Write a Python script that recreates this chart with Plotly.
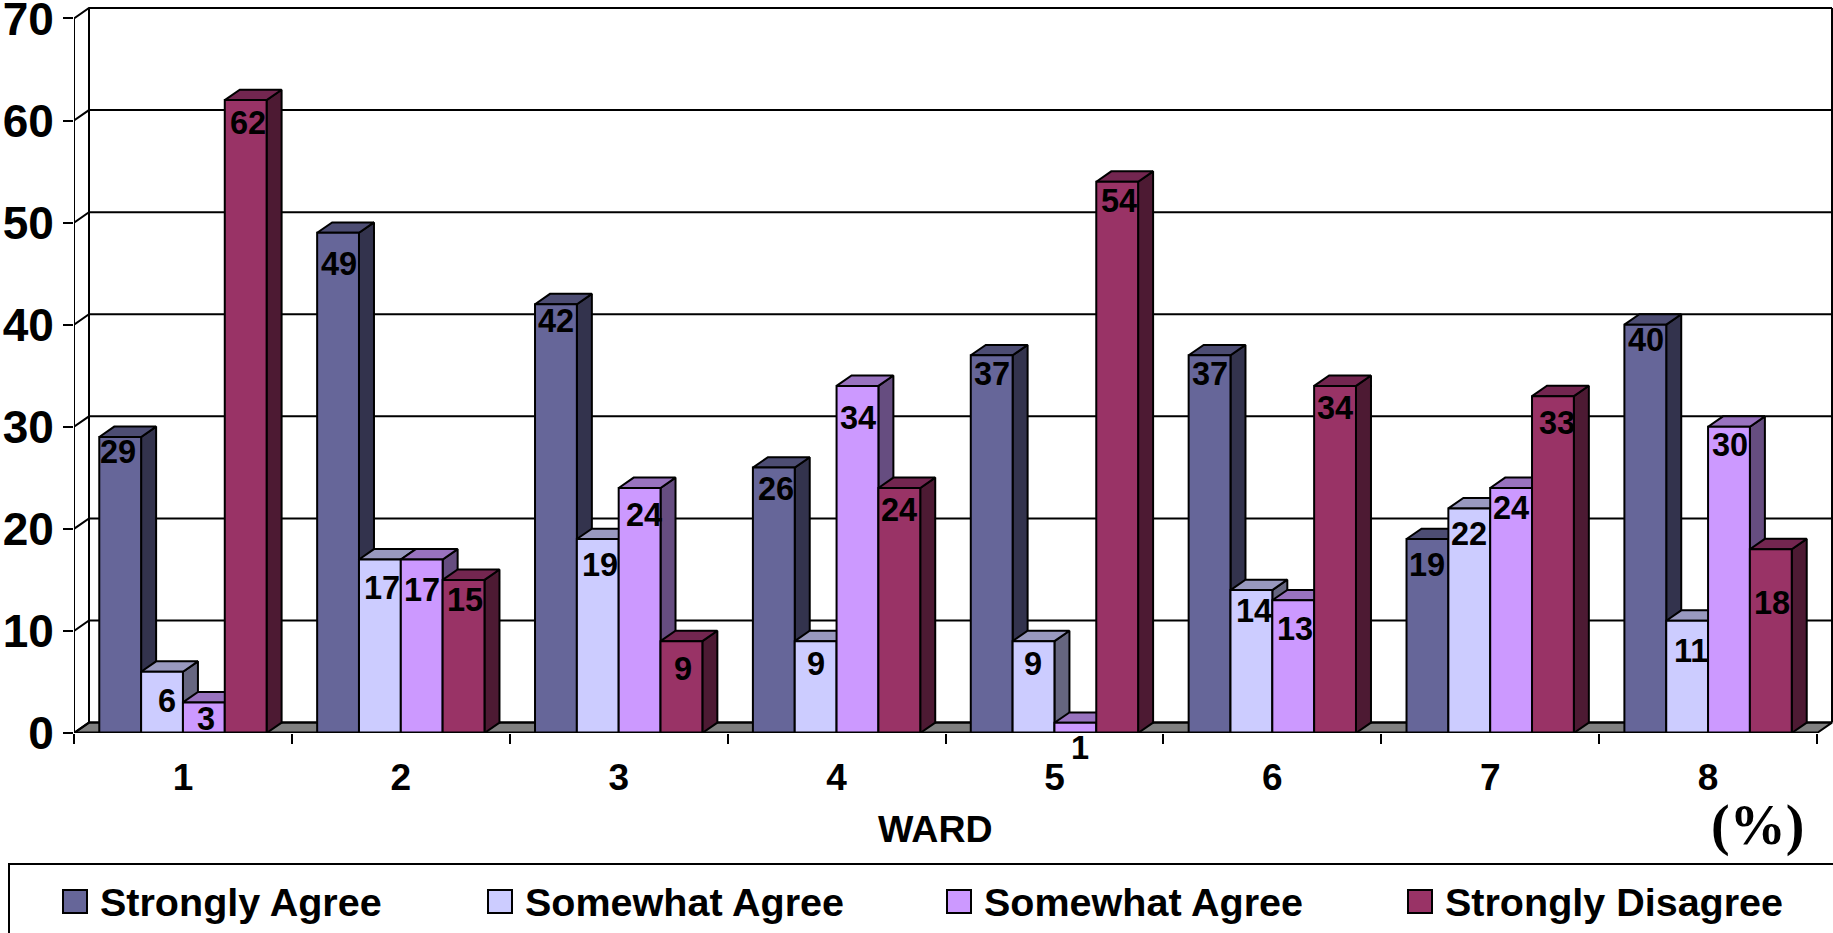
import plotly.graph_objects as go

WARDS = [1, 2, 3, 4, 5, 6, 7, 8]
SERIES = ["Strongly Agree", "Somewhat Agree", "Somewhat Agree", "Strongly Disagree"]
STRONGLY_AGREE = [29, 49, 42, 26, 37, 37, 19, 40]
SOMEWHAT_AGREE = [6, 17, 19, 9, 9, 14, 22, 11]
SOMEWHAT_AGREE_2 = [3, 17, 24, 34, 1, 13, 24, 30]
STRONGLY_DISAGREE = [62, 15, 9, 24, 54, 34, 33, 18]
Y_TICKS = [0, 10, 20, 30, 40, 50, 60, 70]
VALUES = [STRONGLY_AGREE, SOMEWHAT_AGREE, SOMEWHAT_AGREE_2, STRONGLY_DISAGREE]

FRONT = ["#666699", "#CCCCFF", "#CC99FF", "#993366"]
TOP = ["#4D4D73", "#9999BF", "#9973BF", "#732650"]
SIDE = ["#33334D", "#666680", "#664D80", "#4D1A33"]

W, H = 1833, 933
ZERO_PX, SEVENTY_PX = 733, 18       # pixel rows of value 0 and value 70
LEFT_PX, RIGHT_PX = 74, 1817        # pixel columns of the front axis ends
X0, X1 = 0.5, 8.5
Y0, Y1 = 0, 70
PX_X = (RIGHT_PX - LEFT_PX) / (X1 - X0)
PX_Y = (ZERO_PX - SEVENTY_PX) / (Y1 - Y0)
BAR_W = 0.192
DX = 15 / PX_X
DY = 10.4 / PX_Y
LW = 2

# the plot area holds the wall depth too, so nothing is clipped
XR = X0 + (W - LEFT_PX) / PX_X
YR = Y1 + DY + 0.2
ML = LEFT_PX
MR = 0
MB = H - ZERO_PX
MT = H - MB - (YR - Y0) * PX_Y
PW, PH = W - ML - MR, H - MT - MB


def px(x):
    return (x - ML) / PW


def py(y):
    return (H - MB - y) / PH


# label nudges (pixels) per ward / series: sideways shift and drop below bar top
LABEL_SHIFT_X = [[-2, 5, 2, 2], [1, 2, 0, 1], [0, 2, 4, 2], [2, 0, 1, 0],
                 [0, -1, 5, 2], [0, 3, 2, 0], [0, 0, 0, 4], [1, 4, 1, 1]]
LABEL_DROP = [[15, 29, 17, 23], [31, 29, 31, 20], [17, 26, 27, 28], [21, 23, 32, 22],
              [19, 23, 25, 19], [19, 21, 29, 22], [26, 26, 20, 27], [15, 30, 18, 54]]

fig = go.Figure()


def poly(xs, ys, fill=None, width=LW):
    fig.add_trace(go.Scatter(
        x=xs, y=ys, mode="lines", line=dict(color="black", width=width),
        fill="toself" if fill else "none", fillcolor=fill, showlegend=False,
        hoverinfo="skip", xaxis="x", yaxis="y"))


# floor
poly([X0, X0 + DX, X1 + DX, X1, X0], [0, DY, DY, 0, 0], fill="#808080")

# walls and gridlines on the back wall
gx, gy = [], []
for v in Y_TICKS:
    gx += [X0, X0 + DX, X1 + DX, None]
    gy += [v, v + DY, v + DY, None]
gx += [X0 + DX, X0 + DX, None, X1 + DX, X1 + DX, None, X0, X0]
gy += [DY, Y1 + DY, None, DY, Y1 + DY, None, 0, Y1]
poly(gx, gy)

# side and top faces, from the values
for k, ward in enumerate(WARDS):
    for i in range(4):
        v = VALUES[i][k]
        left = ward + (i - 2) * BAR_W
        right = left + BAR_W
        poly([right, right + DX, right + DX, right, right],
             [0, DY, v + DY, v, 0], fill=SIDE[i])
        poly([left, left + DX, right + DX, right, left],
             [v, v + DY, v + DY, v, v], fill=TOP[i])

# front faces on an overlay axis pair, so they sit above every side face
for i, name in enumerate(SERIES):
    fig.add_trace(go.Bar(
        x=WARDS, y=VALUES[i], name=name, width=BAR_W, offset=(i - 2) * BAR_W,
        marker=dict(color=FRONT[i], line=dict(color="black", width=LW)),
        showlegend=False, xaxis="x2", yaxis="y2"))

# front edge of the floor, above the bars
fig.add_trace(go.Scatter(x=[X0, X1], y=[0, 0], mode="lines",
                         line=dict(color="black", width=LW + 1), showlegend=False,
                         hoverinfo="skip", xaxis="x2", yaxis="y2", cliponaxis=False))

annotations = []
SANS = "Liberation Sans"
for k, ward in enumerate(WARDS):
    for i in range(4):
        annotations.append(dict(
            x=ward + (i - 1.5) * BAR_W, y=VALUES[i][k], xref="x2", yref="y2",
            text=str(VALUES[i][k]), showarrow=False, xanchor="center", yanchor="middle",
            xshift=LABEL_SHIFT_X[k][i], yshift=-LABEL_DROP[k][i],
            font=dict(family=SANS, size=32.5, color="black", weight=700)))


def paper(text, x, y, size, anchor="left", family=SANS):
    annotations.append(dict(
        x=px(x), y=py(y), xref="paper", yref="paper", text=text, showarrow=False,
        xanchor=anchor, yanchor="middle",
        font=dict(family=family, size=size, color="black", weight=700)))


paper("WARD", 935, 829, 37.5, "center")
paper("(%)", 1757, 826, 56, "center", "Liberation Serif")

shapes = [dict(type="rect", xref="paper", yref="paper", x0=px(9), x1=px(W + 10),
               y0=py(H + 10), y1=py(864), line=dict(color="black", width=LW))]
SWATCH_X = [63, 488, 947, 1408]
for i, name in enumerate(SERIES):
    sx = SWATCH_X[i]
    shapes.append(dict(type="rect", xref="paper", yref="paper",
                       x0=px(sx), x1=px(sx + 24), y0=py(913), y1=py(890),
                       fillcolor=FRONT[i], line=dict(color="black", width=LW)))
    paper(name, sx + 35, 902, 39.5)

fig.update_layout(
    width=W, height=H, margin=dict(l=ML, r=MR, t=MT, b=MB, pad=0, autoexpand=False),
    paper_bgcolor="white", plot_bgcolor="white", barmode="overlay", showlegend=False,
    shapes=shapes, annotations=annotations,
    xaxis=dict(range=[X0, XR], tickmode="array", tickvals=WARDS,
               ticktext=[str(w) for w in WARDS], ticks="", showgrid=False, zeroline=False,
               showline=False, ticklabelstandoff=19, ticklabeloverflow="allow",
               minor=dict(tickmode="array", tickvals=[w - 0.5 for w in WARDS] + [8.5],
                          ticks="outside", ticklen=10, tickwidth=LW, tickcolor="black",
                          showgrid=False),
               tickfont=dict(family=SANS, size=37, color="black", weight=700)),
    yaxis=dict(range=[Y0, YR], tickmode="array", tickvals=Y_TICKS, ticks="outside",
               ticklen=10, tickwidth=LW, tickcolor="black", showgrid=False, zeroline=False,
               showline=False, ticklabelstandoff=0, ticklabeloverflow="allow",
               tickfont=dict(family=SANS, size=46, color="black", weight=700)),
    xaxis2=dict(range=[X0, XR], overlaying="x", visible=False),
    yaxis2=dict(range=[Y0, YR], overlaying="y", visible=False),
)

fig.write_html("out.html", config=dict(displayModeBar=False), post_script=(
    "document.body.style.margin='0';document.body.style.overflow='hidden';"))
